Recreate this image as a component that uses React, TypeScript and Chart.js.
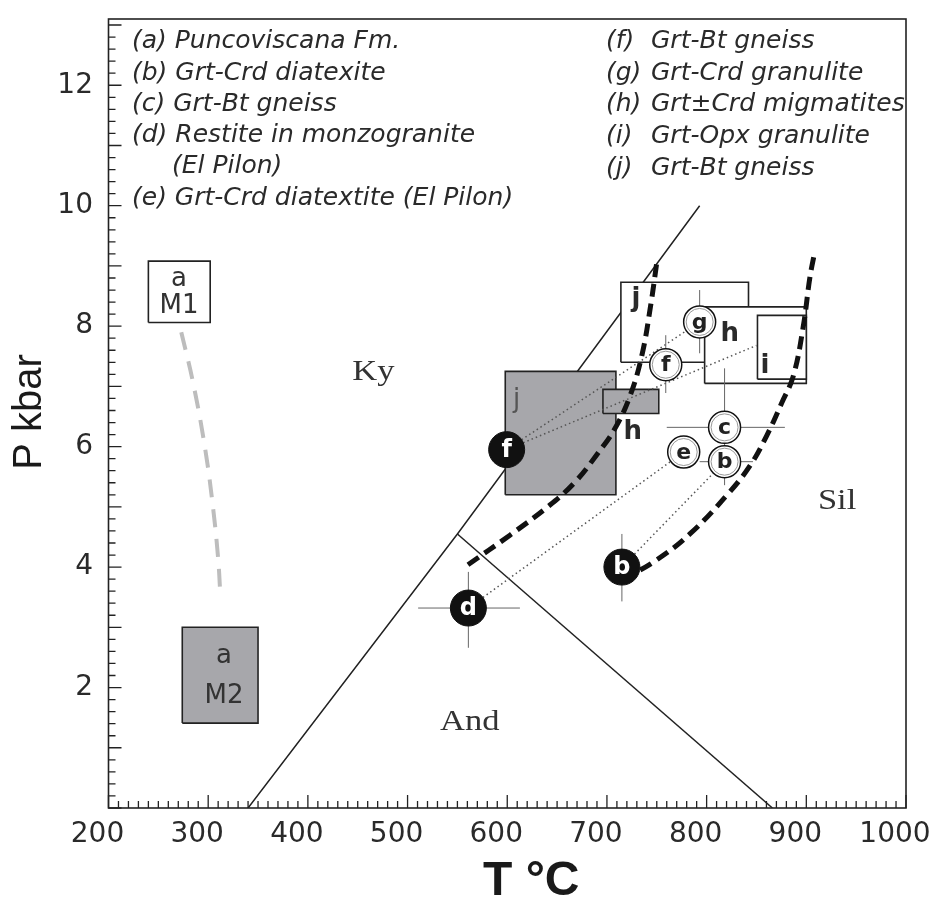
import React, { useEffect, useRef } from 'react';
import { Chart, registerables } from 'chart.js';

Chart.register(...registerables);

// ---- axes ----
const xTickValues = [200, 300, 400, 500, 600, 700, 800, 900, 1000];
const yTickValues = [2, 4, 6, 8, 10, 12];
const tMin = 200;
const tMax = 1000;
const pMin = 0;
const pMax = 13.1;
const xMinorStep = 10;
const yMinorStep = 0.2;

// ---- Al2SiO5 reaction lines ----
const kyLineT = [340, 550, 793];
const kyLineP = [0, 4.55, 10.0];
const andSilT = [550, 866];
const andSilP = [4.55, 0];

// ---- path a (M1 -> M2) ----
const pathAT = [273, 285, 297, 305, 310, 312];
const pathAP = [7.9, 7.05, 5.96, 4.97, 4.14, 3.6];

// ---- boxes (drawn in this order) ----
const boxIds = ['aM1', 'aM2', 'jGray', 'jWhite', 'hWhite', 'iWhite', 'hGray'];
const boxTmin = [240, 274, 598, 714, 798, 851, 696];
const boxTmax = [302, 350, 709, 842, 900, 900, 752];
const boxPmin = [8.06, 1.41, 5.2, 7.4, 7.05, 7.12, 6.55];
const boxPmax = [9.08, 3.0, 7.25, 8.73, 8.32, 8.18, 6.95];

// ---- tie lines (dotted) ----
const tieT0 = [599.4, 599.4, 561, 715];
const tieP0 = [5.95, 5.95, 3.32, 4.0];
const tieT1 = [793, 850, 777, 818];
const tieP1 = [8.07, 7.68, 5.91, 5.75];

// ---- thick dashed curves ----
const leftCurveT = [560.6, 602.7, 642.8, 667.9, 690.0, 708.0, 723.1, 735.1, 744.1, 750.1];
const leftCurveP = [4.04, 4.53, 5.03, 5.41, 5.87, 6.3, 6.84, 7.52, 8.37, 9.07];
const rightCurveT = [715.8, 750, 783.2, 820.1, 843.4, 860.2, 875.2, 886.9, 896.9, 903.6, 908.7];
const rightCurveP = [3.79, 4.12, 4.55, 5.19, 5.68, 6.18, 6.72, 7.17, 7.99, 8.81, 9.25];

// ---- error bars (segments) ----
const errT0 = [510.6, 561, 715, 760, 818, 793, 818, 759, 793];
const errP0 = [3.32, 2.66, 3.43, 6.32, 6.0, 5.75, 5.36, 6.89, 7.55];
const errT1 = [612.7, 561, 715, 878.5, 818, 846.5, 818, 759, 793];
const errP1 = [3.32, 3.92, 4.55, 6.32, 7.3, 5.75, 5.9, 7.85, 8.6];

// ---- markers ----
const blackLabels = ['f', 'd', 'b'];
const blackT = [599.4, 561, 715];
const blackP = [5.95, 3.32, 4.0];
const whiteLabels = ['f', 'g', 'c', 'e', 'b'];
const whiteT = [759, 793, 818, 777, 818];
const whiteP = [7.36, 8.07, 6.32, 5.91, 5.75];

// ---- annotations (data coordinates) ----
const fieldNames = ['Ky', 'And', 'Sil'];
const fieldT = [444.5, 532.5, 911.6];
const fieldP = [7.1, 1.3, 4.96];
const boxLetters = ['j', 'h', 'j', 'h', 'i'];
const boxLetterT = [609.4, 726, 729, 823.3, 858.4];
const boxLetterP = [6.81, 6.28, 8.48, 7.91, 7.38];
const sampleText = ['a', 'M1', 'a', 'M2'];
const sampleT = [270.7, 270.7, 315.8, 315.8];
const sampleP = [8.67, 8.22, 2.41, 1.74];

// ---- legend ----
const legendLeft = [
  '(a) Puncoviscana Fm.',
  '(b) Grt-Crd diatexite',
  '(c) Grt-Bt gneiss',
  '(d) Restite in monzogranite',
  '(El Pilon)',
  '(e) Grt-Crd diatextite (El Pilon)',
];
const legendRightKeys = ['(f)', '(g)', '(h)', '(i)', '(j)'];
const legendRightText = ['Grt-Bt gneiss', 'Grt-Crd granulite', 'Grt±Crd migmatites', 'Grt-Opx granulite', 'Grt-Bt gneiss'];

const xTitle = 'T °C';
const yTitle = 'P kbar';

const pts = (T: number[], P: number[]) => T.map((t, i) => ({ x: t, y: P[i] }));

const decor = {
  id: 'decor',
  afterDatasetsDraw(chart: any) {
    const { ctx, chartArea: a } = chart;
    const xs = chart.scales.x;
    const ys = chart.scales.y;
    const X = (v: number) => xs.getPixelForValue(v);
    const Y = (v: number) => ys.getPixelForValue(v);
    ctx.save();

    // marker letters
    ctx.textAlign = 'center';
    ctx.textBaseline = 'middle';
    ctx.font = 'bold 24px "DejaVu Sans"';
    ctx.fillStyle = '#ffffff';
    blackLabels.forEach((s, i) => ctx.fillText(s, X(blackT[i]), Y(blackP[i]) + 1));
    ctx.font = 'bold 22px "DejaVu Sans"';
    ctx.fillStyle = '#222';
    whiteLabels.forEach((s, i) => ctx.fillText(s, X(whiteT[i]), Y(whiteP[i]) + 1));

    // box letters
    ctx.textBaseline = 'alphabetic';
    boxLetters.forEach((s, i) => {
      ctx.font = i === 0 ? '26px "DejaVu Sans"' : 'bold 26px "DejaVu Sans"';
      ctx.fillStyle = i === 0 ? '#555' : '#2a2a2a';
      ctx.fillText(s, X(boxLetterT[i]), Y(boxLetterP[i]) + 9);
    });

    // sample box text
    ctx.font = '26px "DejaVu Sans"';
    ctx.fillStyle = '#333';
    sampleText.forEach((s, i) => ctx.fillText(s, X(sampleT[i]), Y(sampleP[i])));

    // field names
    ctx.textAlign = 'left';
    ctx.font = '30px "Liberation Serif"';
    ctx.fillStyle = '#333';
    fieldNames.forEach((s, i) => {
      ctx.save();
      ctx.translate(X(fieldT[i]), Y(fieldP[i]));
      ctx.scale(1.15, 1);
      ctx.fillText(s, 0, 0);
      ctx.restore();
    });

    // frame
    ctx.strokeStyle = '#222';
    ctx.lineWidth = 1.6;
    ctx.strokeRect(a.left, a.top, a.right - a.left, a.bottom - a.top);

    // inward ticks
    ctx.lineWidth = 1.3;
    ctx.beginPath();
    const nx = Math.round((tMax - tMin) / xMinorStep);
    for (let i = 0; i <= nx; i++) {
      const v = tMin + i * xMinorStep;
      const px = X(v);
      const len = v % 100 === 0 ? 13 : 7;
      ctx.moveTo(px, a.bottom);
      ctx.lineTo(px, a.bottom - len);
    }
    for (let i = 0; ; i++) {
      const v = pMin + i * yMinorStep;
      if (v > pMax) break;
      const py = Y(v);
      const len = i % 5 === 0 ? 13 : 7;
      ctx.moveTo(a.left, py);
      ctx.lineTo(a.left + len, py);
    }
    ctx.stroke();

    // legend
    ctx.fillStyle = '#2a2a2a';
    ctx.font = 'italic 25px "DejaVu Sans"';
    const leftBase = [48, 80, 111, 142, 173, 205];
    legendLeft.forEach((s, i) => ctx.fillText(s, i === 4 ? 172 : 132, leftBase[i]));
    const rightBase = [48, 80, 111, 143, 175];
    legendRightKeys.forEach((k, i) => {
      ctx.fillText(k, 606, rightBase[i]);
      ctx.fillText(legendRightText[i], 651, rightBase[i]);
    });

    // axis titles
    ctx.fillStyle = '#1a1a1a';
    ctx.font = 'bold 48px "Liberation Sans"';
    ctx.textAlign = 'left';
    ctx.fillText(xTitle, 483, 895);
    ctx.save();
    ctx.translate(41, 412);
    ctx.rotate(-Math.PI / 2);
    ctx.textAlign = 'center';
    ctx.font = '40px "Liberation Sans"';
    ctx.fillText(yTitle, 0, 0);
    ctx.restore();

    ctx.restore();
  },
};

export default function App() {
  const ref = useRef<HTMLCanvasElement>(null);

  useEffect(() => {
    const canvas = ref.current;
    if (!canvas) return;

    const layers: any[] = [];
    const addLine = (data: any[], style: any) =>
      layers.push({ data, showLine: true, pointRadius: 0, fill: false, tension: 0, ...style });

    // reaction lines
    addLine(pts(kyLineT, kyLineP), { borderColor: '#222', borderWidth: 1.5 });
    addLine(pts(andSilT, andSilP), { borderColor: '#222', borderWidth: 1.5 });
    // path a
    addLine(pts(pathAT, pathAP), {
      borderColor: '#bdbdbd', borderWidth: 4, borderDash: [18, 12], tension: 0.4,
    });
    // boxes
    const shaded = new Set(['aM2', 'jGray', 'hGray']);
    boxIds.forEach((id, i) => {
      const t0 = boxTmin[i], t1 = boxTmax[i], p0 = boxPmin[i], p1 = boxPmax[i];
      addLine(
        [{ x: t0, y: p0 }, { x: t1, y: p0 }, { x: t1, y: p1 }, { x: t0, y: p1 }, { x: t0, y: p0 }],
        { borderColor: '#222', borderWidth: 1.6, fill: 'shape', backgroundColor: shaded.has(id) ? '#a7a7ab' : '#ffffff' },
      );
    });
    // tie lines
    tieT0.forEach((_, i) => {
      addLine([{ x: tieT0[i], y: tieP0[i] }, { x: tieT1[i], y: tieP1[i] }], {
        borderColor: '#555', borderWidth: 1.5, borderDash: [1.5, 3],
      });
    });
    // thick dashed curves
    addLine(pts(leftCurveT, leftCurveP), {
      borderColor: '#111', borderWidth: 5, borderDash: [13, 7], tension: 0.4,
    });
    addLine(pts(rightCurveT, rightCurveP), {
      borderColor: '#111', borderWidth: 5, borderDash: [13, 7], tension: 0.4,
    });
    // error bars
    const errData: any[] = [];
    errT0.forEach((_, i) => {
      errData.push({ x: errT0[i], y: errP0[i] }, { x: errT1[i], y: errP1[i] }, { x: errT1[i], y: null });
    });
    addLine(errData, { borderColor: '#666', borderWidth: 1, spanGaps: false });
    // markers
    layers.push({
      data: pts(blackT, blackP), showLine: false, pointRadius: 18, pointStyle: 'circle',
      pointBackgroundColor: '#111', pointBorderColor: '#111', pointBorderWidth: 1,
    });
    layers.push({
      data: pts(whiteT, whiteP), showLine: false, pointRadius: 16, pointStyle: 'circle',
      pointBackgroundColor: '#ffffff', pointBorderColor: '#111', pointBorderWidth: 1.5,
    });
    layers.push({
      data: pts(whiteT, whiteP), showLine: false, pointRadius: 13.5, pointStyle: 'circle',
      pointBackgroundColor: 'rgba(0,0,0,0)', pointBorderColor: '#999', pointBorderWidth: 1,
    });

    const n = layers.length;
    const datasets = layers.map((d, i) => ({ ...d, order: n - i }));

    const tickFont = { family: 'DejaVu Sans', size: 28 };
    const chart = new Chart(canvas, {
      type: 'scatter',
      data: { datasets },
      options: {
        animation: false,
        responsive: false,
        devicePixelRatio: 1,
        events: [],
        layout: { padding: { left: 0, right: 54, top: 12.7, bottom: 0 } },
        plugins: { legend: { display: false }, tooltip: { enabled: false } },
        scales: {
          x: {
            type: 'linear',
            min: tMin,
            max: tMax,
            grid: { display: false, drawTicks: false },
            border: { display: false },
            afterBuildTicks: (s: any) => { s.ticks = xTickValues.map((v) => ({ value: v })); },
            afterFit: (s: any) => { s.height = 92; s.paddingLeft = 0; s.paddingRight = 0; },
            ticks: {
              font: tickFont, color: '#2a2a2a', padding: 10, labelOffset: -11,
              autoSkip: false, maxRotation: 0, callback: (v: any) => String(v),
            },
          },
          y: {
            type: 'linear',
            min: pMin,
            max: pMax,
            grid: { display: false, drawTicks: false },
            border: { display: false },
            afterBuildTicks: (s: any) => { s.ticks = yTickValues.map((v) => ({ value: v })); },
            afterFit: (s: any) => { s.width = 108.5; s.paddingTop = 0; s.paddingBottom = 0; },
            ticks: { font: tickFont, color: '#2a2a2a', padding: 15.5, callback: (v: any) => String(v) },
          },
        },
      },
      plugins: [decor],
    } as any);

    return () => chart.destroy();
  }, []);

  return (
    <div style={{ position: 'absolute', left: 0, top: 0, width: 939, height: 900, overflow: 'hidden', background: '#fff' }}>
      <canvas ref={ref} width={960} height={900} style={{ display: 'block', width: 960, height: 900 }} />
    </div>
  );
}
